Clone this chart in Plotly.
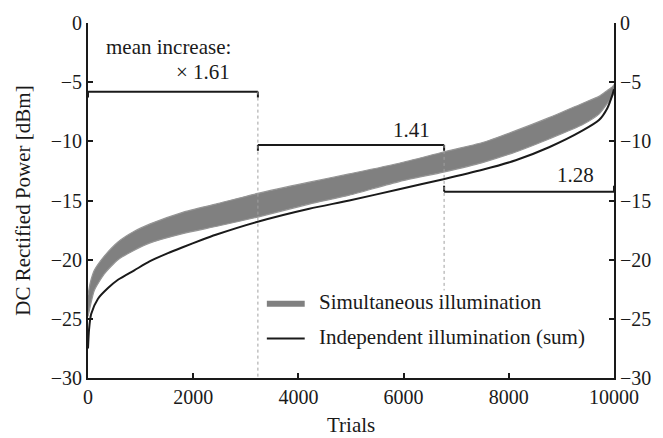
import plotly.graph_objects as go

# Sorted DC rectified power over 10000 trials (dBm), independent illumination (sum)
trials = [0, 20, 60, 190, 380, 570, 880, 1170, 1520, 1800, 2180, 2430, 3225, 4207,
          4967, 5916, 6758, 7499, 8132, 8765, 9398, 9715, 9873, 9968, 10000]
independent_sum = [-27.5, -25.9, -24.6, -23.3, -22.4, -21.7, -20.9, -20.15, -19.45,
                   -18.95, -18.3, -17.9, -16.8, -15.7, -15.0, -14.05, -13.2, -12.4,
                   -11.6, -10.5, -9.1, -8.2, -7.2, -6.1, -5.6]

# Envelope of the simultaneous-illumination trace (upper / lower)
sim_trials = [0, 40, 120, 310, 570, 880, 1170, 1800, 2430, 3225, 4207,
              4967, 5916, 6758, 7499, 8132, 8765, 9398, 9715, 9873, 9968, 10000]
sim_upper = [-23.0, -22.0, -20.9, -19.7, -18.5, -17.6, -17.0, -16.0, -15.3, -14.4,
             -13.45, -12.75, -11.85, -10.9, -10.1, -9.1, -8.0, -6.8, -6.2, -5.7,
             -5.4, -5.2]
sim_lower = [-24.8, -24.0, -22.6, -21.2, -20.0, -19.2, -18.6, -17.8, -17.2, -16.4,
             -15.3, -14.55, -13.4, -12.6, -11.8, -10.9, -9.8, -8.6, -7.7, -6.8,
             -6.2, -5.9]

# Trial segments and mean increase per segment
segment_edges = [0, 3230, 6770, 10000]
segment_labels = ["\u00d7 1.61", "1.41", "1.28"]

# Axis ticks
x_ticks = [0, 2000, 4000, 6000, 8000, 10000]
y_ticks = [-30, -25, -20, -15, -10, -5, 0]

FONT = "Liberation Serif"
INK = "#1a1a1a"
GRAY = "#808080"

fig = go.Figure()

fig.add_trace(go.Scatter(
    x=sim_trials, y=sim_lower, mode="lines",
    line=dict(color="#959595", width=1.2, shape="spline", smoothing=0.6),
    hoverinfo="skip", showlegend=False))
fig.add_trace(go.Scatter(
    x=sim_trials, y=sim_upper, mode="lines", fill="tonexty", fillcolor=GRAY,
    line=dict(color="#959595", width=1.2, shape="spline", smoothing=0.6),
    hoverinfo="skip", showlegend=False))

fig.add_trace(go.Scatter(
    x=trials, y=independent_sum, mode="lines",
    line=dict(color=INK, width=2, shape="spline", smoothing=0.7),
    showlegend=False))

# carrier for the right-hand axis
fig.add_trace(go.Scatter(x=[None], y=[None], yaxis="y2", showlegend=False))

shapes = []
# brackets: (level, tick direction)
bracket_levels = [(-5.8, -0.5), (-10.3, -0.5), (-14.25, 0.5)]
for i, (lvl, tick) in enumerate(bracket_levels):
    x0, x1 = segment_edges[i], segment_edges[i + 1]
    for seg in [(x0, lvl, x1, lvl), (x0, lvl, x0, lvl + tick), (x1, lvl, x1, lvl + tick)]:
        shapes.append(dict(type="line", xref="x", yref="y",
                           x0=seg[0], y0=seg[1], x1=seg[2], y1=seg[3],
                           line=dict(color=INK, width=2)))

# dotted dividers between segments
shapes.append(dict(type="line", xref="x", yref="y", x0=segment_edges[1], x1=segment_edges[1],
                   y0=-5.8, y1=-30, line=dict(color="#a0a0a0", width=1, dash="dot")))
shapes.append(dict(type="line", xref="x", yref="y", x0=segment_edges[2], x1=segment_edges[2],
                   y0=-10.3, y1=-22.6, line=dict(color="#a0a0a0", width=1, dash="dot")))

# legend samples
shapes.append(dict(type="line", xref="paper", yref="paper", x0=0.340, x1=0.412,
                   y0=0.209, y1=0.209, line=dict(color=GRAY, width=6)))
shapes.append(dict(type="line", xref="paper", yref="paper", x0=0.340, x1=0.412,
                   y0=0.111, y1=0.111, line=dict(color=INK, width=2)))

tf = dict(family=FONT, size=21, color=INK)
tickf = dict(family=FONT, size=20, color=INK)
annotations = [
    dict(x=313, y=-2.0, xref="x", yref="y", text="mean increase:", showarrow=False,
         xanchor="left", yanchor="middle", font=tf),
    dict(x=2745, y=-4.1, xref="x", yref="y", text=segment_labels[0], showarrow=False,
         xanchor="right", yanchor="middle", font=tf),
    dict(x=6145, y=-9.0, xref="x", yref="y", text=segment_labels[1], showarrow=False,
         xanchor="center", yanchor="middle", font=tf),
    dict(x=9260, y=-12.87, xref="x", yref="y", text=segment_labels[2], showarrow=False,
         xanchor="center", yanchor="middle", font=tf),
    dict(x=0.436, y=0.213, xref="paper", yref="paper", text="Simultaneous illumination",
         showarrow=False, xanchor="left", yanchor="middle", font=tf),
    dict(x=0.436, y=0.115, xref="paper", yref="paper", text="Independent illumination (sum)",
         showarrow=False, xanchor="left", yanchor="middle", font=tf),
    dict(x=0.5, y=-0.131, xref="paper", yref="paper", text="Trials", showarrow=False,
         xanchor="center", yanchor="middle", font=tf),
    dict(x=-0.125, y=0.5, xref="paper", yref="paper", text="DC Rectified Power [dBm]",
         showarrow=False, textangle=-90, xanchor="center", yanchor="middle", font=tf),
]

axis_common = dict(showgrid=False, zeroline=False, showline=True, linecolor=INK,
                   linewidth=2, ticks="inside", ticklen=5, tickwidth=2, tickcolor=INK,
                   tickfont=tickf)

fig.update_layout(
    width=663, height=438,
    margin=dict(l=88, r=48, t=19, b=60),
    paper_bgcolor="white", plot_bgcolor="white",
    xaxis=dict(range=[0, 10000], tickvals=x_ticks, ticktext=[str(v) for v in x_ticks],
               **axis_common),
    yaxis=dict(range=[-30, 0], tickvals=y_ticks, **axis_common),
    yaxis2=dict(range=[-30, 0], tickvals=y_ticks, overlaying="y", side="right", anchor="x",
                **axis_common),
    shapes=shapes, annotations=annotations, showlegend=False,
)

fig.write_html("out.html")
